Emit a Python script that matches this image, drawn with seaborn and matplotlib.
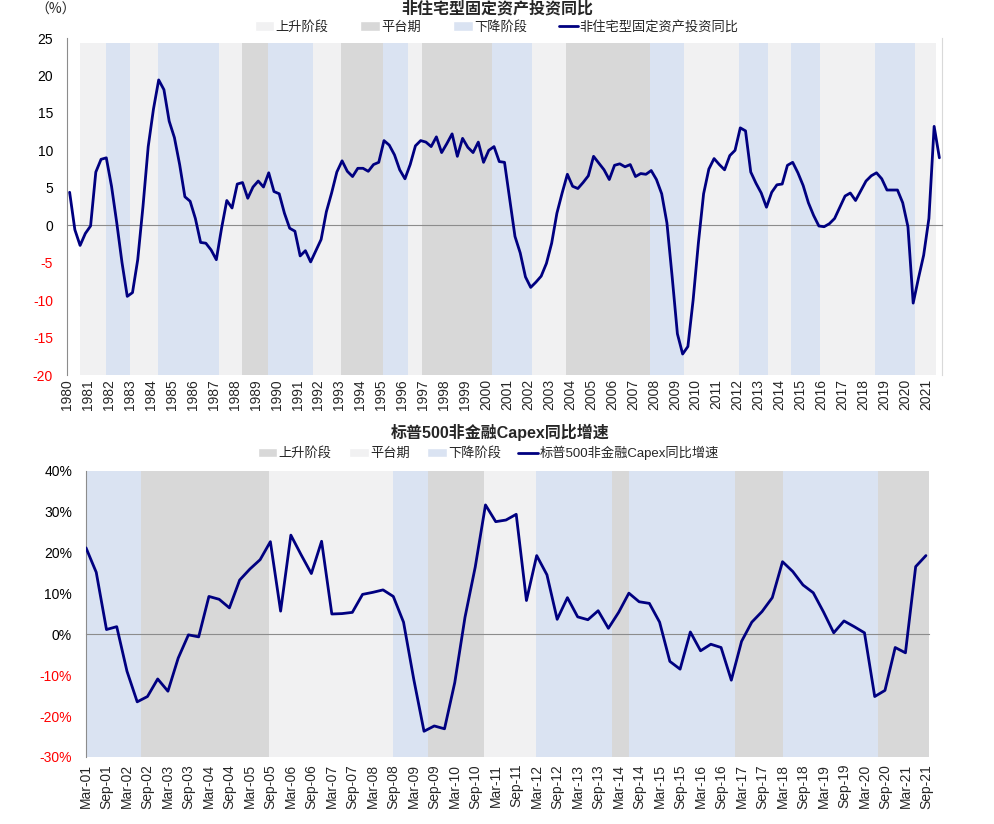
import numpy as np
import pandas as pd
import matplotlib
matplotlib.use('Agg')
import matplotlib.pyplot as plt
import seaborn as sns
from matplotlib.patches import Patch
from matplotlib.lines import Line2D

# 非住宅型固定资产投资同比 (%), quarterly 1980Q1 - 2021Q3
nonres_yoy = [
    4.4, -0.6, -2.7, -1.1, -0.1, 7.1, 8.8, 9.0,
    5.2, 0.3, -5.0, -9.5, -9.0, -4.6, 2.5, 10.5,
    15.5, 19.4, 18.1, 13.9, 11.7, 8.1, 3.8, 3.2,
    0.9, -2.3, -2.4, -3.3, -4.6, -0.4, 3.3, 2.3,
    5.5, 5.7, 3.6, 5.1, 5.9, 5.1, 7.0, 4.5,
    4.2, 1.6, -0.4, -0.8, -4.1, -3.4, -4.9, -3.4,
    -1.9, 1.8, 4.3, 7.1, 8.6, 7.2, 6.5, 7.6,
    7.6, 7.2, 8.1, 8.4, 11.3, 10.7, 9.4, 7.4,
    6.2, 8.1, 10.6, 11.3, 11.1, 10.5, 11.8, 9.7,
    10.9, 12.2, 9.2, 11.6, 10.4, 9.7, 11.1, 8.4,
    10.0, 10.5, 8.5, 8.4, 3.5, -1.5, -3.7, -6.9,
    -8.3, -7.6, -6.8, -5.1, -2.4, 1.6, 4.3, 6.8,
    5.2, 4.9, 5.7, 6.6, 9.2, 8.3, 7.4, 6.1,
    8.0, 8.2, 7.8, 8.1, 6.5, 6.9, 6.8, 7.3,
    6.1, 4.2, 0.3, -6.9, -14.5, -17.2, -16.2, -10.0,
    -2.4, 4.2, 7.5, 8.9, 8.1, 7.4, 9.3, 10.0,
    13.0, 12.6, 7.1, 5.6, 4.3, 2.4, 4.4, 5.4,
    5.5, 8.0, 8.4, 7.0, 5.3, 3.0, 1.3, -0.1,
    -0.2, 0.2, 0.9, 2.4, 3.9, 4.3, 3.3, 4.6,
    5.9, 6.6, 7.0, 6.2, 4.7, 4.7, 4.7, 3.0,
    -0.2, -10.4, -7.1, -4.0, 0.9, 13.2, 9.0,
]
top_quarters = pd.period_range('1980Q1', '2021Q3', freq='Q')

# phases of the top chart (fractional years)
top_phase_start = [1980.62, 1981.86, 1983.0, 1984.34, 1987.24, 1988.34, 1989.58, 1991.73,
                   1993.06, 1995.06, 1996.25, 1996.92, 2000.3, 2002.21, 2003.83, 2007.84,
                   2009.46, 2012.08, 2013.46, 2014.56, 2015.94, 2018.56, 2020.47]
top_phase_end = [1981.86, 1983.0, 1984.34, 1987.24, 1988.34, 1989.58, 1991.73, 1993.06,
                 1995.06, 1996.25, 1996.92, 2000.3, 2002.21, 2003.83, 2007.84, 2009.46,
                 2012.08, 2013.46, 2014.56, 2015.94, 2018.56, 2020.47, 2021.47]
top_phase_kind = ['up', 'down', 'up', 'down', 'up', 'flat', 'down', 'up',
                  'flat', 'down', 'up', 'flat', 'down', 'up', 'flat', 'down',
                  'up', 'down', 'up', 'down', 'up', 'down', 'up']

# 标普500非金融Capex同比增速 (%), quarterly Mar-01 - Sep-21
capex_yoy = [
    21.2, 15.2, 1.2, 1.9,
    -9.0, -16.5, -15.2, -10.9,
    -13.9, -5.8, -0.1, -0.6,
    9.3, 8.6, 6.5, 13.3,
    16.0, 18.3, 22.7, 5.7,
    24.3, 19.5, 14.9, 22.8,
    5.0, 5.1, 5.4, 9.8,
    10.3, 10.9, 9.3, 3.0,
    -11.0, -23.7, -22.4, -23.1,
    -11.8, 4.2, 16.5, 31.7,
    27.6, 28.0, 29.4, 8.3,
    19.3, 14.6, 3.7, 9.0,
    4.3, 3.6, 5.8, 1.5,
    5.4, 10.1, 8.0, 7.6,
    3.0, -6.6, -8.5, 0.6,
    -4.0, -2.4, -3.2, -11.2,
    -1.7, 3.0, 5.6, 9.0,
    17.8, 15.4, 12.1, 10.2,
    5.5, 0.4, 3.3, 1.9,
    0.4, -15.2, -13.7, -3.2,
    -4.5, 16.6, 19.3,
]
bottom_quarters = pd.period_range('2001Q1', '2021Q3', freq='Q')

# phases of the bottom chart (quarter index from Mar-01)
bot_phase_start = [0, 5.4, 17.9, 30.0, 33.4, 38.9, 43.9, 51.4, 53.0, 63.4, 68.0, 77.3]
bot_phase_end = [5.4, 17.9, 30.0, 33.4, 38.9, 43.9, 51.4, 53.0, 63.4, 68.0, 77.3, 82.3]
bot_phase_kind = ['down', 'up', 'flat', 'down', 'up', 'flat', 'down', 'up', 'down', 'up', 'down', 'up']

sns.set_style('white')
plt.rcParams['font.family'] = ['Liberation Sans', 'Noto Sans CJK SC']
plt.rcParams['axes.unicode_minus'] = False

NAVY = '#000080'
LIGHT = '#F1F1F2'
DARK = '#D8D8D8'
BLUE = '#DAE3F2'
AXC = '#8C8C8C'

fig = plt.figure(figsize=(9.95, 8.24), dpi=100)

# ---------------- top chart ----------------
ax1 = fig.add_axes([67 / 995, 1 - 375 / 824, 875 / 995, 337 / 824])
top_colors = {'up': LIGHT, 'flat': DARK, 'down': BLUE}
for s, e, k in zip(top_phase_start, top_phase_end, top_phase_kind):
    ax1.axvspan(s, e, ymin=0, ymax=(24.3 + 20) / 45, color=top_colors[k], lw=0, zorder=0)

top_df = pd.DataFrame({
    'x': [p.year + (p.quarter - 0.5) / 4 for p in top_quarters],
    'y': nonres_yoy,
})
sns.lineplot(data=top_df, x='x', y='y', ax=ax1, color=NAVY, linewidth=2.0, zorder=3)
ax1.set_xlim(1980, 2021.75)
ax1.set_ylim(-20, 25)
ax1.set_xlabel('')
ax1.set_ylabel('')
ax1.set_yticks(range(-20, 26, 5))
ax1.set_yticklabels([str(v) for v in range(-20, 26, 5)])
for lab, v in zip(ax1.get_yticklabels(), range(-20, 26, 5)):
    lab.set_color('red' if v < 0 else 'black')
ax1.tick_params(axis='y', direction='out', length=4, width=1, color=AXC, labelsize=10, pad=6)

ax1.spines['top'].set_visible(False)
ax1.spines['right'].set_color('#D9D9D9')
ax1.spines['left'].set_color(AXC)
ax1.spines['bottom'].set_position(('data', 0))
ax1.spines['bottom'].set_color(AXC)
years = list(range(1980, 2022))
ax1.set_xticks(years)
ax1.tick_params(axis='x', direction='out', length=4, width=1, color=AXC, labelbottom=False)
sec1 = ax1.secondary_xaxis('bottom')
sec1.set_xticks(years)
sec1.set_xticklabels([str(y) for y in years], rotation=90)
sec1.tick_params(length=0, pad=3, labelsize=10)
sec1.spines['bottom'].set_visible(False)

h_top = [Patch(facecolor=LIGHT, label='上升阶段'),
         Patch(facecolor=DARK, label='平台期'),
         Patch(facecolor=BLUE, label='下降阶段'),
         Line2D([], [], color=NAVY, lw=2, label='非住宅型固定资产投资同比')]
ax1.legend(handles=h_top, loc='center', bbox_to_anchor=(0.491, 1.032), ncol=4,
           frameon=False, fontsize=9.5, handlelength=1.5, handleheight=0.7,
           handletextpad=0.1, columnspacing=2.4, borderaxespad=0)
fig.text(497 / 995, 1 - 9 / 824, '非住宅型固定资产投资同比', ha='center', va='center',
         fontsize=11.5, fontweight='bold')
fig.text(35 / 995, 1 - 10 / 824, '（%）', ha='left', va='center', fontsize=10,
         family=['Noto Sans CJK SC', 'DejaVu Sans'])

# ---------------- bottom chart ----------------
ax2 = fig.add_axes([86 / 995, 1 - 757 / 824, 843 / 995, 286 / 824])
bot_colors = {'up': DARK, 'flat': LIGHT, 'down': BLUE}
for s, e, k in zip(bot_phase_start, bot_phase_end, bot_phase_kind):
    ax2.axvspan(s, e, color=bot_colors[k], lw=0, zorder=0)

bot_df = pd.DataFrame({'x': np.arange(len(bottom_quarters)), 'y': capex_yoy})
sns.lineplot(data=bot_df, x='x', y='y', ax=ax2, color=NAVY, linewidth=2.0, zorder=3)
ax2.set_xlim(0, 82.3)
ax2.set_ylim(-30, 40)
ax2.set_xlabel('')
ax2.set_ylabel('')
yt = list(range(-30, 41, 10))
ax2.set_yticks(yt)
ax2.set_yticklabels([f'{v}%' for v in yt])
for lab, v in zip(ax2.get_yticklabels(), yt):
    lab.set_color('red' if v < 0 else 'black')
ax2.tick_params(axis='y', direction='out', length=4, width=1, color=AXC, labelsize=10, pad=6)

ax2.spines['top'].set_visible(False)
ax2.spines['right'].set_visible(False)
ax2.spines['left'].set_color(AXC)
ax2.spines['bottom'].set_position(('data', 0))
ax2.spines['bottom'].set_color(AXC)
half_idx = list(range(0, len(bottom_quarters), 2))
half_labels = [('Mar' if bottom_quarters[i].quarter == 1 else 'Sep') + '-' + bottom_quarters[i].strftime('%y')
               for i in half_idx]
ax2.set_xticks(half_idx)
ax2.tick_params(axis='x', direction='out', length=4, width=1, color=AXC, labelbottom=False)
sec2 = ax2.secondary_xaxis('bottom')
sec2.set_xticks(half_idx)
sec2.set_xticklabels(half_labels, rotation=90)
sec2.tick_params(length=0, pad=5, labelsize=10)
sec2.spines['bottom'].set_visible(False)

h_bot = [Patch(facecolor=DARK, label='上升阶段'),
         Patch(facecolor=LIGHT, label='平台期'),
         Patch(facecolor=BLUE, label='下降阶段'),
         Line2D([], [], color=NAVY, lw=2, label='标普500非金融Capex同比增速')]
ax2.legend(handles=h_bot, loc='center', bbox_to_anchor=(0.477, 1.063), ncol=4,
           frameon=False, fontsize=9.5, handlelength=1.5, handleheight=0.7,
           handletextpad=0.1, columnspacing=1.3, borderaxespad=0)
fig.text(500 / 995, 1 - 432 / 824, '标普500非金融Capex同比增速', ha='center', va='center',
         fontsize=11.5, fontweight='bold')

fig.savefig('out.png', dpi=100, facecolor='white')
